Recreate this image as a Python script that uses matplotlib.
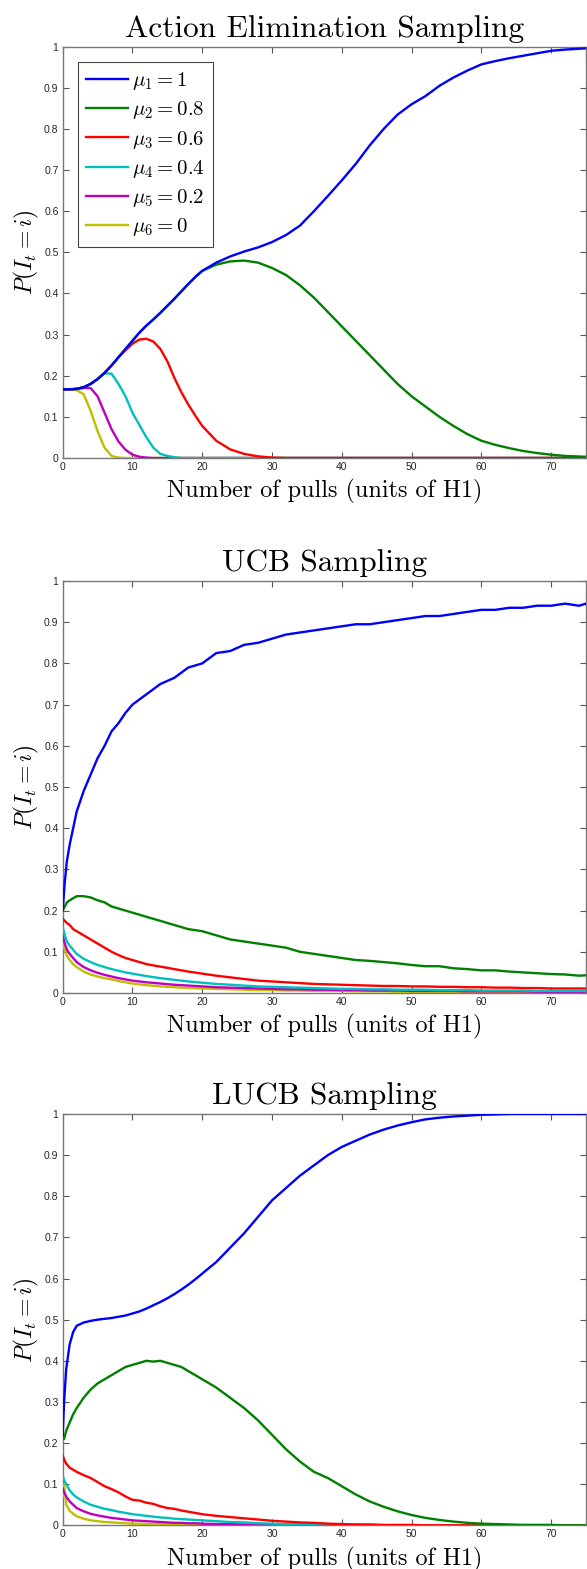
import matplotlib
matplotlib.use("Agg")
import matplotlib.pyplot as plt
import numpy as np

plt.rcParams['mathtext.fontset'] = 'cm'

# ---------------- data ----------------
TITLES = ["Action Elimination Sampling", "UCB Sampling", "LUCB Sampling"]
XLABEL = "Number of pulls (units of H1)"
YLABEL = r"$P(I_t = i)$"
LEGEND_LABELS = [r"$\mu_1 = 1$", r"$\mu_2 = 0.8$", r"$\mu_3 = 0.6$",
                 r"$\mu_4 = 0.4$", r"$\mu_5 = 0.2$", r"$\mu_6 = 0$"]
XTICKS = [0, 10, 20, 30, 40, 50, 60, 70]
YTICKS = [0, 0.1, 0.2, 0.3, 0.4, 0.5, 0.6, 0.7, 0.8, 0.9, 1]
YTICKLABELS = ["0", "0.1", "0.2", "0.3", "0.4", "0.5", "0.6", "0.7", "0.8", "0.9", "1"]

# Action Elimination
AE_X = [0, 1, 2, 3, 4, 5, 6, 7, 8, 9, 10, 11, 12, 13, 14, 15, 16, 17, 18, 19, 20,
        22, 24, 26, 28, 30, 32, 34, 36, 38, 40, 42, 44, 46, 48, 50, 52, 54, 56, 58,
        60, 62, 64, 66, 68, 70, 72, 75]
AE_MU1 = [0.167, 0.167, 0.168, 0.172, 0.18, 0.192, 0.207, 0.225, 0.245, 0.265, 0.285,
          0.305, 0.322, 0.337, 0.353, 0.37, 0.387, 0.405, 0.423, 0.44, 0.455,
          0.475, 0.49, 0.502, 0.512, 0.525, 0.542, 0.565, 0.6, 0.637, 0.675, 0.715,
          0.76, 0.8, 0.835, 0.86, 0.88, 0.905, 0.925, 0.942, 0.957, 0.965, 0.972,
          0.978, 0.984, 0.99, 0.993, 0.996]
AE_MU2 = [0.167, 0.167, 0.168, 0.172, 0.18, 0.192, 0.207, 0.225, 0.245, 0.265, 0.285,
          0.305, 0.322, 0.337, 0.353, 0.37, 0.387, 0.405, 0.423, 0.44, 0.455,
          0.47, 0.478, 0.48, 0.475, 0.462, 0.445, 0.42, 0.39, 0.355, 0.32, 0.285,
          0.25, 0.215, 0.18, 0.15, 0.125, 0.1, 0.078, 0.058, 0.042, 0.032, 0.024,
          0.017, 0.012, 0.008, 0.005, 0.003]
AE_MU3 = [0.167, 0.167, 0.168, 0.172, 0.18, 0.192, 0.207, 0.225, 0.245, 0.262, 0.278,
          0.288, 0.29, 0.283, 0.265, 0.235, 0.195, 0.16, 0.13, 0.103, 0.078,
          0.042, 0.021, 0.01, 0.004, 0.001, 0.0, 0.0, 0.0, 0.0, 0.0, 0.0,
          0.0, 0.0, 0.0, 0.0, 0.0, 0.0, 0.0, 0.0, 0.0, 0.0, 0.0,
          0.0, 0.0, 0.0, 0.0, 0.0]
AE_MU4 = [0.167, 0.167, 0.168, 0.172, 0.18, 0.192, 0.206, 0.205, 0.18, 0.15, 0.11,
          0.08, 0.05, 0.025, 0.01, 0.005, 0.002, 0.0, 0.0, 0.0, 0.0,
          0.0, 0.0, 0.0, 0.0, 0.0, 0.0, 0.0, 0.0, 0.0, 0.0, 0.0,
          0.0, 0.0, 0.0, 0.0, 0.0, 0.0, 0.0, 0.0, 0.0, 0.0, 0.0,
          0.0, 0.0, 0.0, 0.0, 0.0]
AE_MU5 = [0.167, 0.167, 0.168, 0.17, 0.17, 0.15, 0.11, 0.07, 0.04, 0.02, 0.008,
          0.003, 0.001, 0.0, 0.0, 0.0, 0.0, 0.0, 0.0, 0.0, 0.0,
          0.0, 0.0, 0.0, 0.0, 0.0, 0.0, 0.0, 0.0, 0.0, 0.0, 0.0,
          0.0, 0.0, 0.0, 0.0, 0.0, 0.0, 0.0, 0.0, 0.0, 0.0, 0.0,
          0.0, 0.0, 0.0, 0.0, 0.0]
AE_MU6 = [0.167, 0.167, 0.165, 0.155, 0.115, 0.065, 0.025, 0.005, 0.001, 0.0, 0.0,
          0.0, 0.0, 0.0, 0.0, 0.0, 0.0, 0.0, 0.0, 0.0, 0.0,
          0.0, 0.0, 0.0, 0.0, 0.0, 0.0, 0.0, 0.0, 0.0, 0.0, 0.0,
          0.0, 0.0, 0.0, 0.0, 0.0, 0.0, 0.0, 0.0, 0.0, 0.0, 0.0,
          0.0, 0.0, 0.0, 0.0, 0.0]

# UCB
UCB_X = [0, 0.3, 0.6, 1, 1.5, 2, 3, 4, 5, 6, 7, 8, 9, 10, 12, 14, 16, 18, 20, 22, 24,
         26, 28, 30, 32, 34, 36, 38, 40, 42, 44, 46, 48, 50, 52, 54, 56, 58, 60, 62,
         64, 66, 68, 70, 72, 74, 75]
UCB_MU1 = [0.20, 0.27, 0.32, 0.36, 0.40, 0.44, 0.49, 0.53, 0.57, 0.60, 0.635, 0.655,
           0.68, 0.70, 0.725, 0.75, 0.765, 0.79, 0.80, 0.825, 0.83, 0.845, 0.85, 0.86,
           0.87, 0.875, 0.88, 0.885, 0.89, 0.895, 0.895, 0.90, 0.905, 0.91, 0.915,
           0.915, 0.92, 0.925, 0.93, 0.93, 0.935, 0.935, 0.94, 0.94, 0.945, 0.94, 0.945]
UCB_MU2 = [0.20, 0.21, 0.22, 0.225, 0.23, 0.235, 0.235, 0.232, 0.225, 0.22, 0.21, 0.205,
           0.20, 0.195, 0.185, 0.175, 0.165, 0.155, 0.15, 0.14, 0.13, 0.125, 0.12, 0.115,
           0.11, 0.10, 0.095, 0.09, 0.085, 0.08, 0.078, 0.075, 0.072, 0.068, 0.065,
           0.065, 0.06, 0.058, 0.055, 0.055, 0.052, 0.05, 0.048, 0.046, 0.045, 0.042, 0.043]
UCB_MU3 = [0.18, 0.175, 0.17, 0.165, 0.155, 0.15, 0.14, 0.13, 0.12, 0.11, 0.10, 0.092,
           0.085, 0.08, 0.07, 0.064, 0.058, 0.052, 0.047, 0.042, 0.038, 0.034, 0.03,
           0.028, 0.026, 0.024, 0.022, 0.021, 0.02, 0.019, 0.018, 0.017, 0.017, 0.016,
           0.016, 0.015, 0.015, 0.014, 0.014, 0.013, 0.013, 0.012, 0.012, 0.011, 0.011,
           0.011, 0.011]
UCB_MU4 = [0.16, 0.14, 0.125, 0.115, 0.105, 0.095, 0.083, 0.075, 0.068, 0.063, 0.058,
           0.054, 0.05, 0.047, 0.041, 0.036, 0.032, 0.028, 0.025, 0.022, 0.02, 0.018,
           0.016, 0.015, 0.014, 0.013, 0.012, 0.011, 0.010, 0.010, 0.009, 0.009, 0.008,
           0.008, 0.008, 0.007, 0.007, 0.007, 0.006, 0.006, 0.006, 0.006, 0.005, 0.005,
           0.005, 0.005, 0.005]
UCB_MU5 = [0.14, 0.12, 0.105, 0.095, 0.085, 0.075, 0.063, 0.055, 0.049, 0.044, 0.04,
           0.036, 0.033, 0.03, 0.026, 0.023, 0.02, 0.018, 0.016, 0.014, 0.013, 0.012,
           0.011, 0.010, 0.009, 0.009, 0.008, 0.008, 0.007, 0.007, 0.006, 0.006, 0.006,
           0.005, 0.005, 0.005, 0.005, 0.004, 0.004, 0.004, 0.004, 0.004, 0.003, 0.003,
           0.003, 0.003, 0.003]
UCB_MU6 = [0.12, 0.105, 0.09, 0.08, 0.07, 0.063, 0.052, 0.045, 0.04, 0.036, 0.033,
           0.029, 0.026, 0.023, 0.019, 0.016, 0.014, 0.012, 0.011, 0.010, 0.009, 0.008,
           0.007, 0.007, 0.006, 0.006, 0.005, 0.005, 0.005, 0.004, 0.004, 0.004, 0.003,
           0.003, 0.003, 0.003, 0.003, 0.002, 0.002, 0.002, 0.002, 0.002, 0.002, 0.002,
           0.002, 0.002, 0.002]

# LUCB
LUCB_X = [0, 0.2, 0.5, 1, 1.5, 2, 3, 4, 5, 6, 7, 8, 9, 10, 11, 12, 13, 14, 15, 16, 17,
          18, 19, 20, 22, 24, 26, 28, 30, 32, 34, 36, 38, 40, 42, 44, 46, 48, 50, 52,
          54, 56, 58, 60, 62, 64, 66, 68, 70, 72, 75]
LUCB_MU1 = [0.22, 0.30, 0.38, 0.44, 0.47, 0.485, 0.493, 0.497, 0.50, 0.502, 0.504,
            0.507, 0.51, 0.515, 0.52, 0.527, 0.535, 0.543, 0.552, 0.562, 0.573, 0.585,
            0.598, 0.612, 0.64, 0.675, 0.71, 0.75, 0.79, 0.82, 0.85, 0.875, 0.90, 0.92,
            0.935, 0.95, 0.962, 0.972, 0.98, 0.987, 0.991, 0.994, 0.996, 0.998, 0.999,
            1.0, 1.0, 1.0, 1.0, 1.0, 1.0]
LUCB_MU2 = [0.22, 0.21, 0.23, 0.25, 0.27, 0.285, 0.31, 0.33, 0.345, 0.355, 0.365,
            0.375, 0.385, 0.39, 0.395, 0.40, 0.398, 0.40, 0.395, 0.39, 0.385, 0.375,
            0.365, 0.355, 0.335, 0.31, 0.285, 0.255, 0.22, 0.185, 0.155, 0.13, 0.115,
            0.095, 0.075, 0.058, 0.045, 0.034, 0.025, 0.018, 0.013, 0.009, 0.006, 0.004,
            0.003, 0.002, 0.001, 0.001, 0.001, 0.0, 0.0]
LUCB_MU3 = [0.17, 0.16, 0.15, 0.14, 0.135, 0.13, 0.122, 0.115, 0.105, 0.095, 0.088,
            0.08, 0.07, 0.062, 0.06, 0.055, 0.052, 0.046, 0.042, 0.04, 0.036, 0.033,
            0.03, 0.027, 0.023, 0.02, 0.017, 0.014, 0.011, 0.009, 0.007, 0.006, 0.004,
            0.003, 0.002, 0.002, 0.001, 0.001, 0.001, 0.0, 0.0, 0.0, 0.0, 0.0, 0.0,
            0.0, 0.0, 0.0, 0.0, 0.0, 0.0]
LUCB_MU4 = [0.12, 0.11, 0.10, 0.085, 0.075, 0.068, 0.058, 0.05, 0.045, 0.04, 0.037,
            0.033, 0.03, 0.027, 0.025, 0.023, 0.021, 0.019, 0.018, 0.016, 0.015, 0.014,
            0.013, 0.012, 0.010, 0.008, 0.007, 0.005, 0.004, 0.003, 0.003, 0.002, 0.002,
            0.001, 0.001, 0.001, 0.0, 0.0, 0.0, 0.0, 0.0, 0.0, 0.0, 0.0, 0.0,
            0.0, 0.0, 0.0, 0.0, 0.0, 0.0]
LUCB_MU5 = [0.09, 0.08, 0.07, 0.058, 0.05, 0.042, 0.034, 0.028, 0.024, 0.021, 0.018,
            0.016, 0.014, 0.012, 0.011, 0.010, 0.009, 0.008, 0.007, 0.006, 0.006, 0.005,
            0.005, 0.004, 0.003, 0.003, 0.002, 0.002, 0.001, 0.001, 0.001, 0.0, 0.0,
            0.0, 0.0, 0.0, 0.0, 0.0, 0.0, 0.0, 0.0, 0.0, 0.0, 0.0, 0.0,
            0.0, 0.0, 0.0, 0.0, 0.0, 0.0]
LUCB_MU6 = [0.07, 0.10, 0.05, 0.035, 0.028, 0.022, 0.016, 0.012, 0.010, 0.008, 0.007,
            0.006, 0.005, 0.004, 0.004, 0.003, 0.003, 0.003, 0.002, 0.002, 0.002, 0.002,
            0.001, 0.001, 0.001, 0.001, 0.0, 0.0, 0.0, 0.0, 0.0, 0.0, 0.0,
            0.0, 0.0, 0.0, 0.0, 0.0, 0.0, 0.0, 0.0, 0.0, 0.0, 0.0, 0.0,
            0.0, 0.0, 0.0, 0.0, 0.0, 0.0]

PANELS = [
    (AE_X, [AE_MU1, AE_MU2, AE_MU3, AE_MU4, AE_MU5, AE_MU6]),
    (UCB_X, [UCB_MU1, UCB_MU2, UCB_MU3, UCB_MU4, UCB_MU5, UCB_MU6]),
    (LUCB_X, [LUCB_MU1, LUCB_MU2, LUCB_MU3, LUCB_MU4, LUCB_MU5, LUCB_MU6]),
]

# ---------------- style ----------------
COLORS = [(0, 0, 1), (0, 0.5, 0), (1, 0, 0), (0, 0.75, 0.75), (0.75, 0, 0.75), (0.75, 0.75, 0)]
W, H = 587, 1569
fig = plt.figure(figsize=(W / 100, H / 100), dpi=100)

# axes boxes in pixels: (left, top, right, bottom)
BOXES = [(62.7, 46.7, 586, 458), (62.7, 581, 586, 993), (62.7, 1114, 586, 1525.3)]

for i, ((xs, series), box) in enumerate(zip(PANELS, BOXES)):
    l, t, r, b = box
    ax = fig.add_axes([l / W, 1 - b / H, (r - l) / W, (b - t) / H])
    lines = []
    for k in range(5, -1, -1):
        ln, = ax.plot(xs, series[k], color=COLORS[k], lw=1.7, solid_joinstyle='round',
                      label=LEGEND_LABELS[k], zorder=3 + (6 - k) * 0.01)
        lines.append(ln)
    lines = lines[::-1]
    ax.set_xlim(0, 75)
    ax.set_ylim(0, 1)
    ax.set_xticks(XTICKS)
    ax.set_xticklabels([str(v) for v in XTICKS])
    ax.set_yticks(YTICKS)
    ax.set_yticklabels(YTICKLABELS)
    ax.tick_params(direction='in', top=True, right=True, length=4, width=0.8,
                   color='#555555', labelsize=7.5, labelcolor='#262626', pad=3)
    for lab in ax.get_xticklabels() + ax.get_yticklabels():
        lab.set_fontfamily('Liberation Sans')
    for sp in ax.spines.values():
        sp.set_color('#777777')
        sp.set_linewidth(1.0)
    ax.set_title(TITLES[i], fontfamily='cmr10', fontsize=22.5, pad=7, color='black')
    ax.set_xlabel(XLABEL, fontfamily='cmr10', fontsize=17.4, labelpad=5)
    ax.set_ylabel(YLABEL, fontsize=17, labelpad=2)
    if i == 0:
        leg = ax.legend(lines, LEGEND_LABELS, loc='upper left',
                        bbox_to_anchor=(15 / 523.3, 1 - 15 / 411.3), borderaxespad=0,
                        fontsize=15, handlelength=2.0, handletextpad=0.2,
                        labelspacing=0.35, borderpad=0.4, fancybox=False,
                        framealpha=1, edgecolor='#444444')
        leg.get_frame().set_linewidth(0.8)

fig.savefig("out.png", dpi=100)
